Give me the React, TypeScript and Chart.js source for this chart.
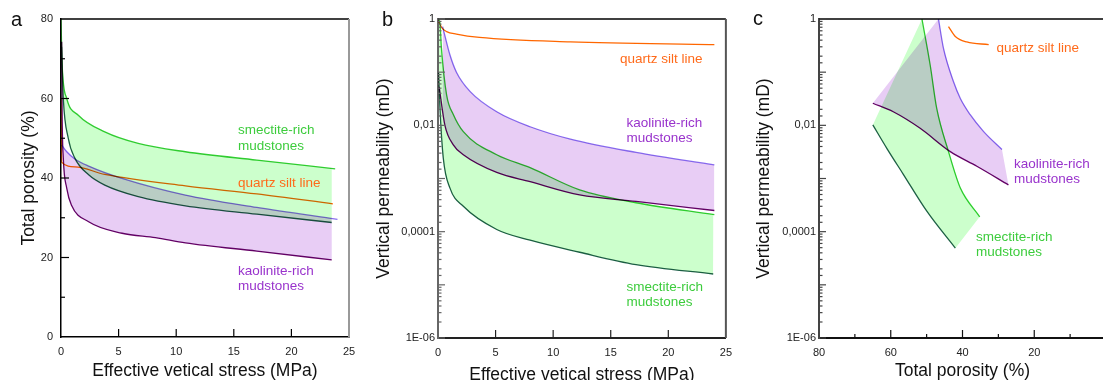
import React, { useEffect, useRef } from 'react';
import { Chart, registerables } from 'chart.js';

Chart.register(...registerables);

const FONT = "'Liberation Sans', Arial, Helvetica, sans-serif";

// ---------- Panel a : total porosity (%) vs effective vertical stress (MPa)
const A_SMEC_HIGH_X = [0, 0.1, 0.5, 1.5, 3.8, 6.7, 10.8, 17, 23.8];
const A_SMEC_HIGH_Y = [80, 68.4, 60, 55.8, 51.6, 48.7, 46.6, 44.5, 42.3];
const A_SMEC_LOW_X = [0.05, 0.2, 0.63, 1.2, 2.4, 3.8, 6.7, 10.8, 17, 23.5];
const A_SMEC_LOW_Y = [73, 60, 50, 45, 40.8, 38.2, 35.3, 33, 30.9, 28.8];
const A_KAO_HIGH_X = [0.06, 0.5, 1.2, 2.4, 5.3, 10.8, 17, 24];
const A_KAO_HIGH_Y = [48.3, 46.6, 44.8, 43, 39.9, 35.7, 32.6, 29.6];
const A_KAO_LOW_X = [0.06, 0.1, 0.2, 0.5, 0.9, 2.4, 5.3, 8.2, 10.8, 17, 23.5];
const A_KAO_LOW_Y = [74.3, 55.8, 45, 37.4, 33.2, 29, 26.1, 25, 23.7, 21.6, 19.4];
const A_QUARTZ_X = [0, 0.05, 1.2, 3.8, 10.8, 17, 23.6];
const A_QUARTZ_Y = [60, 44, 42.8, 40.9, 38, 36, 33.5];

const A_X_TICKS = [0, 5, 10, 15, 20, 25];
const A_X_LABELS = ['0', '5', '10', '15', '20', '25'];
const A_Y_TICKS = [0, 20, 40, 60, 80];
const A_Y_LABELS = ['0', '20', '40', '60', '80'];
const A_Y_MINOR = [10, 30, 50, 70];

// ---------- Panel b : vertical permeability (mD) vs effective vertical stress (MPa)
const B_SMEC_HIGH_X = [0.05, 0.17, 0.3, 0.75, 1.33, 2.2, 5.1, 8.0, 12.3, 17.2, 24];
const B_SMEC_HIGH_Y = [1, 0.83, 0.28, 0.037, 0.016, 0.0076, 0.0028, 0.0016, 0.00061, 0.00035, 0.00021];
const B_SMEC_LOW_X = [0.05, 0.17, 0.46, 1.04, 2.2, 5.1, 8.0, 12.3, 17.2, 23.9];
const B_SMEC_LOW_Y = [0.1, 0.021, 0.0024, 0.00066, 0.0003, 0.00011, 0.000069, 0.000041, 0.000024, 0.000016];
const B_KAO_HIGH_X = [0.4, 1.04, 1.6, 2.8, 5.1, 8.0, 11.5, 17.2, 24];
const B_KAO_HIGH_Y = [0.72, 0.21, 0.1, 0.043, 0.018, 0.0094, 0.0055, 0.0031, 0.0018];
const B_KAO_LOW_X = [0.1, 0.6, 1.33, 2.2, 5.1, 8.0, 12.3, 17.2, 24];
const B_KAO_LOW_Y = [0.053, 0.01, 0.0043, 0.0028, 0.0013, 0.00087, 0.00049, 0.00037, 0.00025];
const B_QUARTZ_X = [0, 0.32, 0.75, 1.6, 3.6, 11.5, 24];
const B_QUARTZ_Y = [0.95, 0.69, 0.58, 0.52, 0.45, 0.37, 0.33];

const B_X_TICKS = [0, 5, 10, 15, 20, 25];
const B_X_LABELS = ['0', '5', '10', '15', '20', '25'];

// ---------- Panel c : vertical permeability (mD) vs total porosity (%)
const C_SMEC_HIGH_X = [51.3, 49.0, 47.2, 43.9, 40.6, 35.2];
const C_SMEC_HIGH_Y = [1, 0.135, 0.021, 0.0032, 0.00066, 0.00019];
const C_SMEC_LOW_X = [65, 61.1, 56.5, 49.9, 42.0];
const C_SMEC_LOW_Y = [0.0102, 0.0037, 0.0012, 0.00024, 0.000049];
const C_KAO_HIGH_X = [46.7, 45.3, 42.5, 40.6, 37.9, 34.1, 29.0];
const C_KAO_HIGH_Y = [1, 0.28, 0.066, 0.032, 0.016, 0.0076, 0.0035];
const C_KAO_LOW_X = [65, 59.3, 51.8, 43.4, 36.0, 27.2];
const C_KAO_LOW_Y = [0.026, 0.018, 0.0088, 0.0032, 0.0017, 0.00076];
const C_QUARTZ_X = [43.9, 42.0, 38.8, 32.7];
const C_QUARTZ_Y = [0.72, 0.47, 0.37, 0.33];

const C_X_TICKS = [80, 60, 40, 20];
const C_X_LABELS = ['80', '60', '40', '20'];
const C_X_MINOR = [70, 50, 30, 10];

// log axis labels (panels b and c)
const LOG_LABEL_VALUES = [1, 0.01, 0.0001, 0.000001];
const LOG_LABELS = ['1', '0,01', '0,0001', '1E-06'];

// ---------- styles
const C_GREEN = '#33cc33';
const C_DKGREEN = '#1d5e48';
const C_BLUE = '#8a6ff0';
const C_DKPURPLE = '#660066';
const C_ORANGE = '#ff6600';
const F_GREEN = '#ccffcc';
const F_PURPLE = '#e8cdf5';
const T_GREEN = '#3dcc3d';
const T_PURPLE = '#9933cc';
const T_ORANGE = '#ff6a1a';

type P = { x: number; y: number };
const pts = (xs: number[], ys: number[]): P[] => xs.map((x, i) => ({ x, y: ys[i] }));

const lineDs = (data: P[], color: string, extra: any = {}) => ({
  type: 'line',
  data,
  borderColor: color,
  backgroundColor: color,
  borderWidth: 1.3,
  pointRadius: 0,
  fill: false,
  cubicInterpolationMode: 'monotone',
  ...extra,
});

const shapeDs = (data: P[], color: string) => ({
  type: 'line',
  data,
  borderWidth: 0,
  borderColor: 'rgba(0,0,0,0)',
  backgroundColor: color,
  pointRadius: 0,
  tension: 0,
  fill: 'shape',
});

const logLabel = (v: number) => {
  const i = LOG_LABEL_VALUES.findIndex((t) => Math.abs(Math.log10(t) - Math.log10(v)) < 1e-6);
  return i >= 0 ? LOG_LABELS[i] : '';
};

const tickFont = { family: FONT, size: 11 };
const noGrid = { display: false, drawTicks: false, tickLength: 0 };

type Decor = {
  xAxisColor: string;
  yAxisColor: string;
  xMajor: number[];
  xMinor: number[];
  yMajor: number[];
  yMinor: number[];
  logY: boolean;
  rightColor: string | null;
  letter: { t: string; x: number; y: number };
  texts: { t: string; x: number; y: number; c: string }[];
};

const decorPlugin = (d: Decor) => ({
  id: 'decor',
  beforeDatasetsDraw(chart: any) {
    chart.ctx.save();
    chart.ctx.globalCompositeOperation = 'multiply';
  },
  afterDatasetsDraw(chart: any) {
    chart.ctx.restore();
  },
  afterDraw(chart: any) {
    const { ctx, chartArea: ca, scales } = chart;
    ctx.save();
    // frame
    ctx.lineWidth = 1.5;
    ctx.strokeStyle = '#000';
    ctx.beginPath();
    ctx.moveTo(ca.left, ca.top);
    ctx.lineTo(ca.right, ca.top);
    ctx.stroke();
    if (d.rightColor) {
      ctx.strokeStyle = d.rightColor;
      ctx.lineWidth = 2;
      ctx.beginPath();
      ctx.moveTo(ca.right, ca.top);
      ctx.lineTo(ca.right, ca.bottom);
      ctx.stroke();
    }
    // inward ticks
    const xs = scales.x;
    const ys = scales.y;
    ctx.lineWidth = 1.2;
    ctx.strokeStyle = d.xAxisColor;
    const xt = (v: number, len: number) => {
      const px = xs.getPixelForValue(v);
      ctx.beginPath();
      ctx.moveTo(px, ca.bottom);
      ctx.lineTo(px, ca.bottom - len);
      ctx.stroke();
    };
    d.xMajor.forEach((v) => xt(v, 8));
    d.xMinor.forEach((v) => xt(v, 4));
    ctx.strokeStyle = d.yAxisColor;
    const yt = (v: number, len: number) => {
      const py = ys.getPixelForValue(v);
      ctx.beginPath();
      ctx.moveTo(ca.left, py);
      ctx.lineTo(ca.left + len, py);
      ctx.stroke();
    };
    if (d.logY) {
      ys.ticks.forEach((t: any) => {
        const l = Math.log10(t.value);
        yt(t.value, Math.abs(l - Math.round(l)) < 1e-6 ? 7 : 3.5);
      });
    } else {
      d.yMajor.forEach((v) => yt(v, 8));
      d.yMinor.forEach((v) => yt(v, 4));
    }
    // panel letter
    ctx.fillStyle = '#111';
    ctx.font = `20px ${FONT}`;
    ctx.textBaseline = 'alphabetic';
    ctx.textAlign = 'left';
    ctx.fillText(d.letter.t, d.letter.x, d.letter.y);
    // annotations
    ctx.font = `13.5px ${FONT}`;
    d.texts.forEach((t) => {
      ctx.fillStyle = t.c;
      ctx.fillText(t.t, t.x, t.y);
    });
    ctx.restore();
  },
});

const axisTitle = (text: string, pad: any) => ({
  display: true,
  text,
  color: '#111',
  font: { family: FONT, size: 17.5, lineHeight: 1 },
  padding: pad,
});

function buildChart(
  canvas: HTMLCanvasElement,
  datasets: any[],
  xScale: any,
  yScale: any,
  padding: any,
  yWidth: number,
  xHeight: number,
  decor: Decor
) {
  return new Chart(canvas, {
    type: 'line',
    data: { datasets },
    options: {
      animation: false,
      responsive: false,
      maintainAspectRatio: false,
      devicePixelRatio: 1,
      events: [],
      layout: { padding },
      plugins: { legend: { display: false }, tooltip: { enabled: false } },
      scales: {
        x: {
          ...xScale,
          afterFit: (s: any) => {
            s.height = xHeight;
          },
        },
        y: {
          ...yScale,
          afterFit: (s: any) => {
            s.width = yWidth;
          },
        },
      },
    } as any,
    plugins: [decorPlugin(decor)],
  } as any);
}

export default function App() {
  const refA = useRef<HTMLCanvasElement>(null);
  const refB = useRef<HTMLCanvasElement>(null);
  const refC = useRef<HTMLCanvasElement>(null);

  useEffect(() => {
    const charts: Chart[] = [];

    // ---------------- Panel a
    const aDatasets = [
      lineDs(pts(A_SMEC_HIGH_X, A_SMEC_HIGH_Y), C_GREEN, { fill: '+1', backgroundColor: F_GREEN }),
      lineDs(pts(A_SMEC_LOW_X, A_SMEC_LOW_Y), C_DKGREEN),
      lineDs(pts(A_KAO_HIGH_X, A_KAO_HIGH_Y), C_BLUE, { fill: '+1', backgroundColor: F_PURPLE }),
      lineDs(pts(A_KAO_LOW_X, A_KAO_LOW_Y), C_DKPURPLE),
      lineDs(pts(A_QUARTZ_X, A_QUARTZ_Y), C_ORANGE),
    ];
    charts.push(
      buildChart(
        refA.current!,
        aDatasets,
        {
          type: 'linear',
          min: 0,
          max: 25,
          afterBuildTicks: (s: any) => {
            s.ticks = A_X_TICKS.map((v) => ({ value: v }));
          },
          ticks: { autoSkip: false, maxRotation: 0, padding: 8, font: tickFont, color: '#222', callback: (_v: any, i: number) => A_X_LABELS[i] },
          grid: noGrid,
          border: { display: true, color: '#000', width: 1.5 },
          title: axisTitle('Effective vetical stress (MPa)', { top: 0, bottom: 0.3 }),
        },
        {
          type: 'linear',
          min: 0,
          max: 80,
          afterBuildTicks: (s: any) => {
            s.ticks = A_Y_TICKS.map((v) => ({ value: v }));
          },
          ticks: { autoSkip: false, padding: 8, font: tickFont, color: '#222', callback: (_v: any, i: number) => A_Y_LABELS[i] },
          grid: noGrid,
          border: { display: true, color: '#000', width: 1.5 },
          title: axisTitle('Total porosity (%)', { top: 20.2, bottom: 0 }),
        },
        { top: 19, right: 21, left: 0, bottom: 0 },
        61,
        43,
        {
          xAxisColor: '#000',
          yAxisColor: '#000',
          xMajor: [5, 10, 15, 20],
          xMinor: [],
          yMajor: [20, 40, 60],
          yMinor: A_Y_MINOR,
          logY: false,
          rightColor: '#999',
          letter: { t: 'a', x: 11, y: 26 },
          texts: [
            { t: 'smectite-rich', x: 238, y: 134, c: T_GREEN },
            { t: 'mudstones', x: 238, y: 149.5, c: T_GREEN },
            { t: 'quartz silt line', x: 238, y: 187, c: T_ORANGE },
            { t: 'kaolinite-rich', x: 238, y: 275, c: T_PURPLE },
            { t: 'mudstones', x: 238, y: 290, c: T_PURPLE },
          ],
        }
      )
    );

    // ---------------- Panel b
    const bDatasets = [
      lineDs(pts(B_SMEC_HIGH_X, B_SMEC_HIGH_Y), C_GREEN, { fill: '+1', backgroundColor: F_GREEN }),
      lineDs(pts(B_SMEC_LOW_X, B_SMEC_LOW_Y), C_DKGREEN),
      lineDs(pts(B_KAO_HIGH_X, B_KAO_HIGH_Y), C_BLUE, { fill: '+1', backgroundColor: F_PURPLE }),
      lineDs(pts(B_KAO_LOW_X, B_KAO_LOW_Y), C_DKPURPLE),
      lineDs(pts(B_QUARTZ_X, B_QUARTZ_Y), C_ORANGE),
    ];
    const logY = (titlePadTop: number, labelPad: number, axisColor: string) => ({
      type: 'logarithmic',
      min: 0.000001,
      max: 1,
      ticks: { autoSkip: false, padding: labelPad, font: tickFont, color: '#222', callback: (v: any) => logLabel(Number(v)) },
      grid: noGrid,
      border: { display: true, color: axisColor, width: 2 },
      title: axisTitle('Vertical permeability (mD)', { top: titlePadTop, bottom: 0 }),
    });
    charts.push(
      buildChart(
        refB.current!,
        bDatasets,
        {
          type: 'linear',
          min: 0,
          max: 25,
          afterBuildTicks: (s: any) => {
            s.ticks = B_X_TICKS.map((v) => ({ value: v }));
          },
          ticks: { autoSkip: false, maxRotation: 0, padding: 8, font: tickFont, color: '#222', callback: (_v: any, i: number) => B_X_LABELS[i] },
          grid: noGrid,
          border: { display: true, color: '#222', width: 2 },
          title: axisTitle('Effective vetical stress (MPa)', { top: 0, bottom: -4.15 }),
        },
        logY(5.2, 3, '#666'),
        { top: 19, right: 14, left: 0, bottom: 0 },
        68,
        42,
        {
          xAxisColor: '#222',
          yAxisColor: '#666',
          xMajor: [5, 10, 15, 20],
          xMinor: [],
          yMajor: [],
          yMinor: [],
          logY: true,
          rightColor: '#555',
          letter: { t: 'b', x: 12, y: 26 },
          texts: [
            { t: 'quartz silt line', x: 250, y: 63, c: T_ORANGE },
            { t: 'kaolinite-rich', x: 256.5, y: 126.7, c: T_PURPLE },
            { t: 'mudstones', x: 256.5, y: 141.7, c: T_PURPLE },
            { t: 'smectite-rich', x: 256.5, y: 291, c: T_GREEN },
            { t: 'mudstones', x: 256.5, y: 305.7, c: T_GREEN },
          ],
        }
      )
    );

    // ---------------- Panel c
    const smecHighC = pts(C_SMEC_HIGH_X, C_SMEC_HIGH_Y);
    const smecLowC = pts(C_SMEC_LOW_X, C_SMEC_LOW_Y);
    const kaoHighC = pts(C_KAO_HIGH_X, C_KAO_HIGH_Y);
    const kaoLowC = pts(C_KAO_LOW_X, C_KAO_LOW_Y);
    const cDatasets = [
      lineDs(smecHighC, C_GREEN),
      lineDs(smecLowC, C_DKGREEN),
      lineDs(kaoHighC, C_BLUE),
      lineDs(kaoLowC, C_DKPURPLE),
      lineDs(pts(C_QUARTZ_X, C_QUARTZ_Y), C_ORANGE),
      shapeDs(smecHighC.concat(smecLowC.slice().reverse()), F_GREEN),
      shapeDs(kaoHighC.concat(kaoLowC.slice().reverse()), F_PURPLE),
    ];
    charts.push(
      buildChart(
        refC.current!,
        cDatasets,
        {
          type: 'linear',
          min: 0,
          max: 80,
          reverse: true,
          afterBuildTicks: (s: any) => {
            s.ticks = C_X_TICKS.map((v) => ({ value: v }));
          },
          ticks: { autoSkip: false, maxRotation: 0, padding: 8, font: tickFont, color: '#222', callback: (_v: any, i: number) => C_X_LABELS[i] },
          grid: noGrid,
          border: { display: true, color: '#111', width: 2 },
          title: axisTitle('Total porosity (%)', { top: 0, bottom: 0.3 }),
        },
        logY(15.2, 3, '#444'),
        { top: 19, right: 14, left: 0, bottom: 0 },
        79,
        42,
        {
          xAxisColor: '#111',
          yAxisColor: '#444',
          xMajor: [60, 40, 20],
          xMinor: C_X_MINOR,
          yMajor: [],
          yMinor: [],
          logY: true,
          rightColor: null,
          letter: { t: 'c', x: 13, y: 25 },
          texts: [
            { t: 'quartz silt line', x: 256.5, y: 51.7, c: T_ORANGE },
            { t: 'kaolinite-rich', x: 274, y: 168.3, c: T_PURPLE },
            { t: 'mudstones', x: 274, y: 182.7, c: T_PURPLE },
            { t: 'smectite-rich', x: 236, y: 241, c: T_GREEN },
            { t: 'mudstones', x: 236, y: 255.7, c: T_GREEN },
          ],
        }
      )
    );

    return () => {
      charts.forEach((c) => c.destroy());
    };
  }, []);

  return (
    <div
      style={{
        position: 'fixed',
        left: 0,
        top: 0,
        width: 1103,
        height: 380,
        overflow: 'hidden',
        background: '#fff',
      }}
    >
      <canvas ref={refA} width={370} height={380} style={{ position: 'absolute', left: 0, top: 0 }} />
      <canvas ref={refB} width={370} height={380} style={{ position: 'absolute', left: 370, top: 0 }} />
      <canvas ref={refC} width={380} height={380} style={{ position: 'absolute', left: 740, top: 0 }} />
    </div>
  );
}
